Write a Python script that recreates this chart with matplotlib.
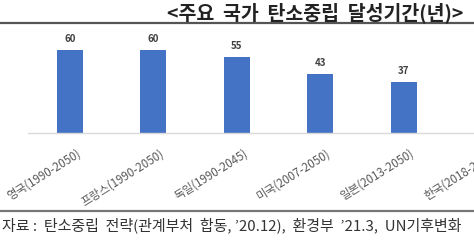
import matplotlib
matplotlib.use("Agg")
import matplotlib.pyplot as plt
from matplotlib.lines import Line2D
import matplotlib.transforms as mtransforms

plt.rcParams['font.family'] = ['Noto Sans CJK KR', 'DejaVu Sans']

categories = ['영국(1990-2050)', '프랑스(1990-2050)', '독일(1990-2045)',
              '미국(2007-2050)', '일본(2013-2050)', '한국(2018-2050)']
values = [60, 60, 55, 43, 37, 32]
title = '<주요  국가  탄소중립  달성기간(년)>'
source = "자료 :  탄소중립  전략(관계부처  합동, ’20.12),  환경부  ’21.3,  UN기후변화"

W, H = 474, 248
fig = plt.figure(figsize=(W / 100, H / 100), dpi=100)

left_px = 70 - 0.5 * 83.4
right_px = 70 + 5.5 * 83.4
ymax = 70
px_per_unit = 83 / 60
base_px = 133
top_px = base_px - ymax * px_per_unit
ax = fig.add_axes([left_px / W, (H - base_px) / H,
                   (right_px - left_px) / W, (base_px - top_px) / H])
x = list(range(len(categories)))
ax.bar(x, values, width=0.31, color='#4472C4', zorder=2)
ax.set_xlim(-0.5, 5.5)
ax.set_ylim(0, ymax)
for s in ['top', 'right', 'left']:
    ax.spines[s].set_visible(False)
ax.spines['bottom'].set_color('#d9d9d9')
ax.spines['bottom'].set_linewidth(1.0)
ax.set_yticks([])
ax.set_xticks(x)
labels = ax.set_xticklabels(categories, rotation=32, ha='right', rotation_mode='anchor',
                            fontsize=8.3, color='#595959')
ax.tick_params(axis='x', length=0, pad=10)
offset = mtransforms.ScaledTranslation(6 / 100, 0, fig.dpi_scale_trans)
for lab in labels:
    lab.set_transform(lab.get_transform() + offset)
for xi, v in zip(x, values):
    ax.annotate(str(v), (xi, v), xytext=(0, 4), textcoords='offset points',
                ha='center', va='bottom', fontsize=7, fontweight='bold',
                color='#404040')

fig.text(463 / W, 1 - 13 / H, title, ha='right', va='center',
         fontsize=14, fontweight='bold', color='#222222')
fig.add_artist(Line2D([0, 1], [1 - 23 / H, 1 - 23 / H], transform=fig.transFigure,
                      color='#555555', linewidth=1.6))
fig.add_artist(Line2D([0, 1], [1 - 211 / H, 1 - 211 / H], transform=fig.transFigure,
                      color='#777777', linewidth=1.6))
fig.text(2 / W, 1 - 225 / H, source, ha='left', va='center',
         fontsize=10.8, color='#333333')

fig.savefig('out.png', dpi=100)
